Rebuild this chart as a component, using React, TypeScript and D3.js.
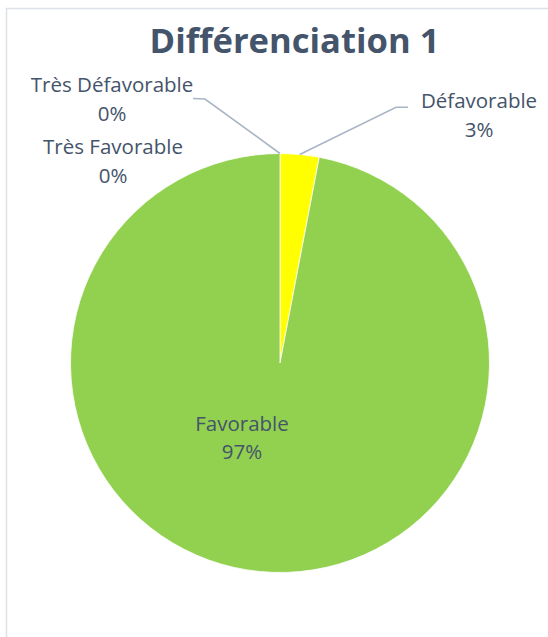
import React from "react";
import * as d3 from "d3";

const categories = ["Défavorable", "Favorable", "Très Défavorable", "Très Favorable"];
const values = [3, 97, 0, 0];
const percentLabels = ["3%", "97%", "0%", "0%"];
const colors = ["#FFFF00", "#92D050", "#FFC000", "#00B050"];
const title = "Différenciation 1";

const W = 548;
const H = 637;
const cx = 280;
const cy = 363;
const R = 209.5;

// label layout (positions of label centers / first baseline)
const labelLayout: Record<string, { x: number; y: number; elbow?: [number, number]; end?: [number, number] }> = {
  "Défavorable": { x: 479, y: 108.3, elbow: [396, 107.3], end: [408, 107.3] },
  "Favorable": { x: 242, y: 430.7 },
  "Très Défavorable": { x: 112, y: 92.3, elbow: [205, 99], end: [193, 98.5] },
  "Très Favorable": { x: 113, y: 154 },
};

export default function App() {
  const pie = d3.pie<number>().sort(null).value((d) => d).startAngle(0).endAngle(2 * Math.PI);
  const arcs = pie(values);
  const arcGen = d3.arc<d3.PieArcDatum<number>>().innerRadius(0).outerRadius(R);
  const edgeArc = d3.arc<d3.PieArcDatum<number>>().innerRadius(R).outerRadius(R);
  const textColor = "#44546A";
  const fontFamily = "'Open Sans', 'Noto Sans', sans-serif";
  const fs = 20.5;
  const lh = 28.6;

  return (
    <svg width={W} height={H} style={{ position: "absolute", left: 0, top: 0, background: "#fff" }}>
      <rect x={6.5} y={8.5} width={W + 20} height={H + 20} fill="#fff" stroke="#DDE2E9" strokeWidth={1.5} />
      <text x={294.5} y={53.3} textAnchor="middle" fill={textColor} fontFamily={fontFamily} fontWeight={700} fontSize={34.6}>
        {title}
      </text>
      <g transform={`translate(${cx},${cy})`}>
        {arcs.map((a, i) =>
          values[i] > 0 ? (
            <path key={categories[i]} d={arcGen(a) || ""} fill={colors[i]} stroke="#fff" strokeWidth={0.8} />
          ) : null
        )}
      </g>
      {arcs.map((a, i) => {
        const lay = labelLayout[categories[i]];
        if (!lay.elbow || !lay.end) return null;
        const mid = { ...a, startAngle: (a.startAngle + a.endAngle) / 2, endAngle: (a.startAngle + a.endAngle) / 2 };
        const [sx, sy] = edgeArc.centroid(mid);
        const pts: [number, number][] = [[cx + sx, cy + sy], lay.elbow, lay.end];
        return (
          <path key={"l" + i} d={d3.line()(pts) || ""} fill="none" stroke="#A9B5C6" strokeWidth={1.6} />
        );
      })}
      {categories.map((c, i) => {
        const lay = labelLayout[c];
        return (
          <text key={"t" + i} textAnchor="middle" fill={textColor} fontFamily={fontFamily} fontSize={fs}>
            <tspan x={lay.x} y={lay.y}>{c}</tspan>
            <tspan x={lay.x} y={lay.y + lh}>{percentLabels[i]}</tspan>
          </text>
        );
      })}
    </svg>
  );
}
